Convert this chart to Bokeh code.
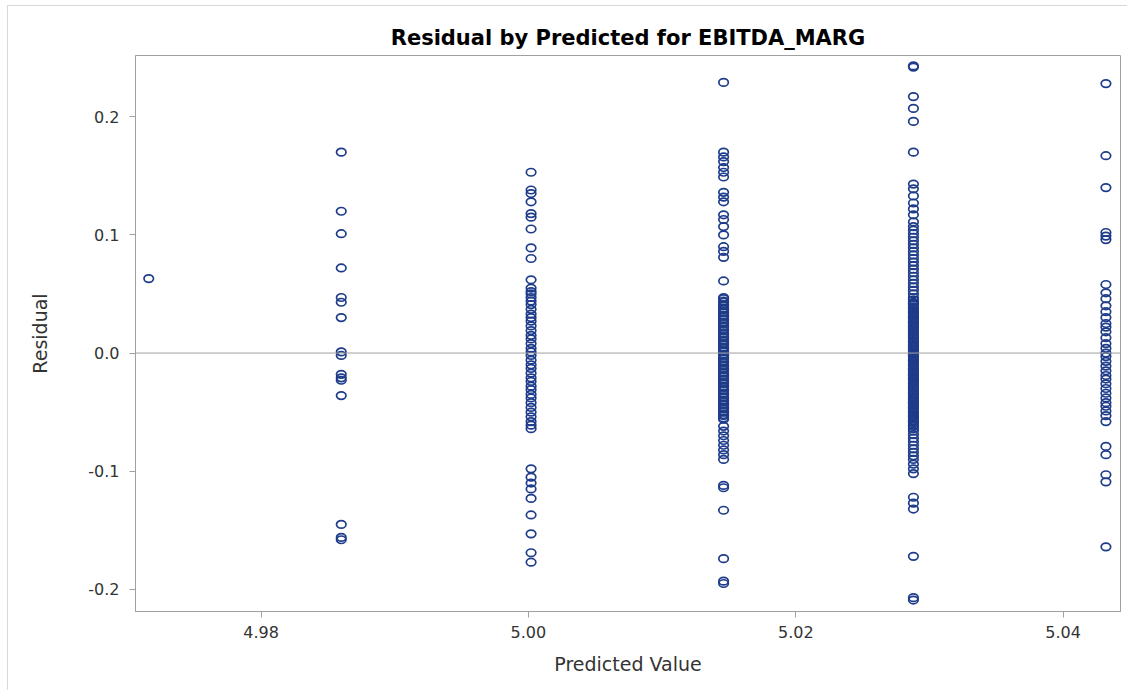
from bokeh.plotting import figure
from bokeh.models import Range1d, Span, FixedTicker, NumeralTickFormatter, ColumnDataSource
from bokeh.embed import file_html
from bokeh.resources import INLINE

# Predicted values (distinct fitted levels)
predicted = [4.9716, 4.9860, 5.0002, 5.0146, 5.0288, 5.0432]

# Residuals observed at each predicted level
res_1 = [0.063]
res_2 = [0.170, 0.120, 0.101, 0.072, 0.047, 0.043, 0.030, 0.001, -0.002,
         -0.018, -0.021, -0.023, -0.036, -0.145, -0.156, -0.158]
res_3 = [0.153, 0.138, 0.135, 0.128, 0.118, 0.115, 0.105, 0.089, 0.080, 0.062,
         0.055, 0.052, 0.050, 0.047, 0.044, 0.041, 0.037, 0.033, 0.030, 0.027,
         0.023, 0.019, 0.015, 0.012, 0.008, 0.004, 0.001, -0.002, -0.006, -0.010,
         -0.013, -0.017, -0.021, -0.024, -0.028, -0.031, -0.035, -0.038, -0.042,
         -0.046, -0.050, -0.054, -0.058, -0.061, -0.064,
         -0.098, -0.105, -0.110, -0.115, -0.123, -0.137, -0.153, -0.169, -0.177]
res_4 = [0.229, 0.170, 0.166, 0.162, 0.157, 0.153, 0.149, 0.136, 0.132, 0.128,
         0.117, 0.113, 0.107, 0.100, 0.090, 0.086, 0.081, 0.061,
         0.047, 0.046, 0.044, 0.043, 0.041, 0.040, 0.038, 0.037, 0.035, 0.034,
         0.032, 0.031, 0.029, 0.028, 0.026, 0.025, 0.023, 0.022, 0.020, 0.019,
         0.017, 0.016, 0.014, 0.013, 0.011, 0.010, 0.008, 0.007, 0.005, 0.004,
         0.002, 0.001, -0.001, -0.002, -0.004, -0.005, -0.007, -0.008, -0.010,
         -0.011, -0.013, -0.014, -0.016, -0.017, -0.019, -0.020, -0.022, -0.023,
         -0.025, -0.026, -0.028, -0.029, -0.031, -0.032, -0.034, -0.035, -0.037,
         -0.038, -0.040, -0.041, -0.043, -0.044, -0.046, -0.047, -0.049, -0.050,
         -0.052, -0.053, -0.055, -0.056,
         -0.062, -0.066, -0.070, -0.074, -0.078, -0.082, -0.086, -0.090,
         -0.112, -0.114, -0.133, -0.174, -0.193, -0.195]
res_5 = [0.243, 0.242, 0.217, 0.207, 0.196, 0.170,
         0.143, 0.139, 0.133, 0.127, 0.122, 0.117, 0.111, 0.107, 0.104, 0.101,
         0.098, 0.095, 0.092, 0.089, 0.086, 0.083, 0.080, 0.077, 0.074, 0.071,
         0.068, 0.065, 0.062, 0.059, 0.056, 0.053, 0.050, 0.047, 0.045, 0.043,
         0.042, 0.041, 0.039, 0.038, 0.037, 0.035, 0.034, 0.033, 0.031, 0.030,
         0.029, 0.027, 0.026, 0.025, 0.023, 0.022, 0.021, 0.019, 0.018, 0.017,
         0.015, 0.014, 0.013, 0.011, 0.010, 0.009, 0.007, 0.006, 0.005, 0.003,
         0.002, 0.001, -0.001, -0.002, -0.003, -0.005, -0.006, -0.007, -0.009,
         -0.010, -0.011, -0.013, -0.014, -0.015, -0.017, -0.018, -0.019, -0.021,
         -0.022, -0.023, -0.025, -0.026, -0.027, -0.029, -0.030, -0.031, -0.033,
         -0.034, -0.035, -0.037, -0.038, -0.039, -0.041, -0.042, -0.043, -0.045,
         -0.046, -0.047, -0.049, -0.050, -0.051, -0.053, -0.054, -0.055, -0.057,
         -0.058, -0.059, -0.061, -0.062, -0.064,
         -0.066, -0.069, -0.072, -0.075, -0.078, -0.081, -0.084, -0.087, -0.090,
         -0.094, -0.098, -0.102,
         -0.122, -0.127, -0.132, -0.172, -0.207, -0.209]
res_6 = [0.228, 0.167, 0.140, 0.102, 0.099, 0.096, 0.058,
         0.051, 0.046, 0.040, 0.035, 0.030, 0.025, 0.022, 0.018, 0.013, 0.008,
         0.004, 0.000, -0.003, -0.007, -0.011, -0.015, -0.019, -0.022, -0.026,
         -0.030, -0.034, -0.038, -0.042, -0.045, -0.049, -0.053, -0.058,
         -0.079, -0.086, -0.103, -0.109, -0.164]

residual_groups = [res_1, res_2, res_3, res_4, res_5, res_6]

x_ticks = [4.98, 5.00, 5.02, 5.04]
y_ticks = [-0.2, -0.1, 0.0, 0.1, 0.2]

xs, ys = [], []
for pv, group in zip(predicted, residual_groups):
    for r in group:
        xs.append(pv)
        ys.append(r)
src = ColumnDataSource(data=dict(x=xs, y=ys))

AXIS_GRAY = "#a0a0a0"
MARK = "#1e3c8a"
TXT = "#333333"
FONT = "DejaVu Sans"

p = figure(width=1120, height=685, output_backend="svg", toolbar_location=None,
           x_range=Range1d(4.97061, 5.04429), y_range=Range1d(-0.2187, 0.2518),
           min_border_left=127, min_border_right=8, min_border_top=49,
           min_border_bottom=80,
           title="Residual by Predicted for EBITDA_MARG")

p.styles = {"margin-left": "7px", "margin-top": "5px",
            "border-left": "1px solid #d9d9d9", "border-top": "1px solid #d9d9d9"}

p.title.align = "center"
p.title.text_font = FONT
p.title.text_font_size = "21px"
p.title.text_font_style = "bold"
p.title.text_color = "#000000"
p.title.standoff = 12

p.xgrid.visible = False
p.ygrid.visible = False
p.outline_line_color = AXIS_GRAY
p.outline_line_width = 1
p.background_fill_color = "white"
p.border_fill_color = "white"

p.add_layout(Span(location=0, dimension="width", line_color=AXIS_GRAY, line_width=1))

p.ellipse(x="x", y="y", width=9.5, height=7.5, width_units="screen",
          height_units="screen", fill_color=None, line_color=MARK,
          line_width=1.7, source=src)

for ax in (p.xaxis[0], p.yaxis[0]):
    ax.axis_line_color = AXIS_GRAY
    ax.major_tick_line_color = AXIS_GRAY
    ax.major_tick_out = 6
    ax.major_tick_in = 0
    ax.minor_tick_line_color = None
    ax.major_label_text_font = FONT
    ax.major_label_text_font_size = "16px"
    ax.major_label_text_color = TXT
    ax.axis_label_text_font = FONT
    ax.axis_label_text_font_size = "19px"
    ax.axis_label_text_font_style = "normal"
    ax.axis_label_text_color = TXT

p.xaxis[0].ticker = FixedTicker(ticks=x_ticks)
p.xaxis[0].formatter = NumeralTickFormatter(format="0.00")
p.xaxis[0].axis_label = "Predicted Value"
p.xaxis[0].major_label_standoff = 8
p.xaxis[0].axis_label_standoff = 12

p.yaxis[0].ticker = FixedTicker(ticks=y_ticks)
p.yaxis[0].formatter = NumeralTickFormatter(format="0.0")
p.yaxis[0].axis_label = "Residual"
p.yaxis[0].major_label_standoff = 10
p.yaxis[0].axis_label_standoff = 34

open("out.html", "w").write(file_html(p, INLINE))
